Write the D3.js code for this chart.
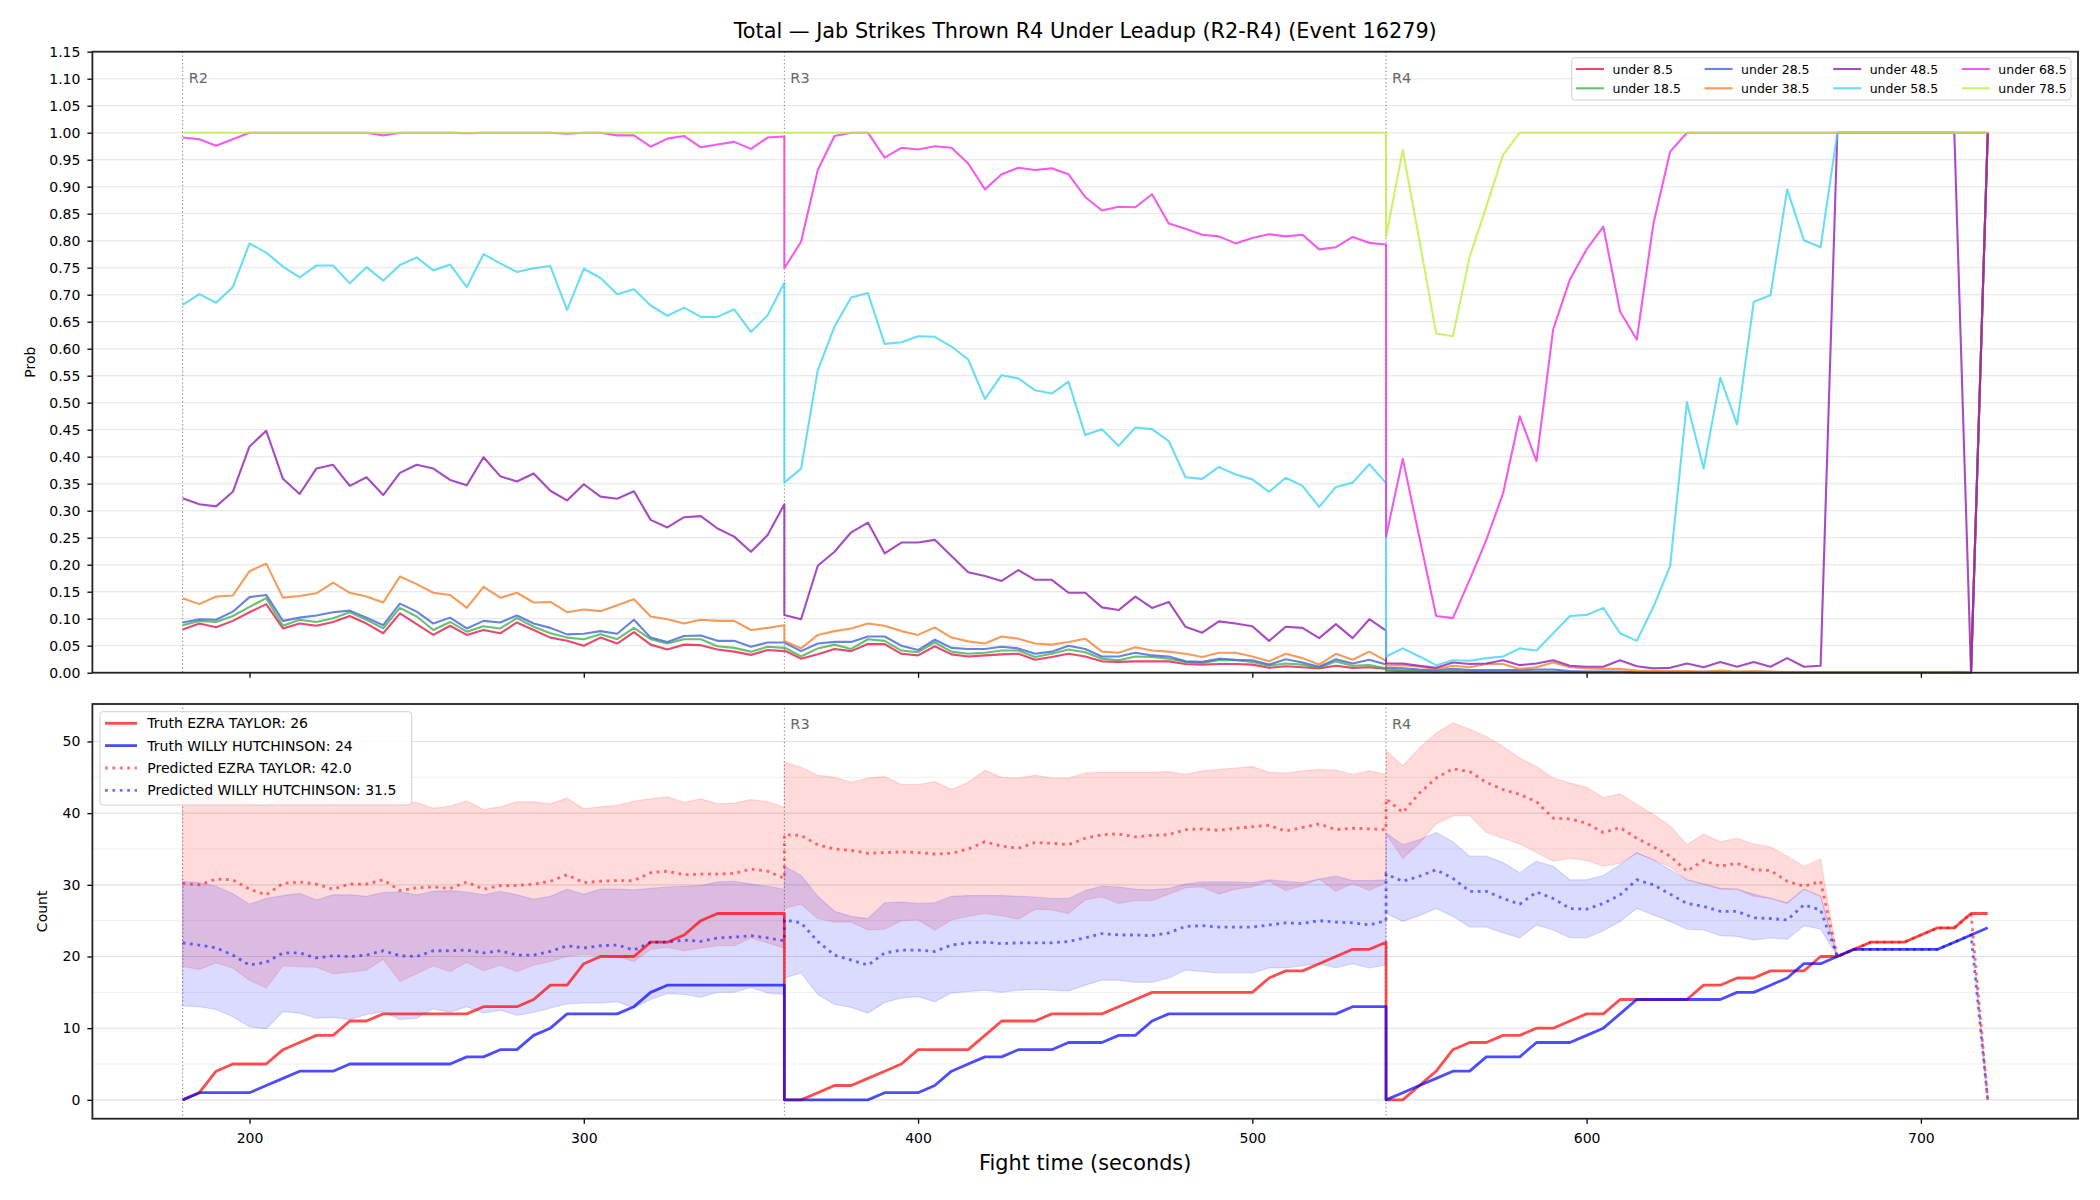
<!DOCTYPE html>
<html>
<head>
<meta charset="utf-8">
<script src="https://cdn.jsdelivr.net/npm/d3@7"></script>
<style>
  body { margin: 0; background: #fff; }
  #chart { width: 2100px; height: 1200px; }
  text { font-family: "DejaVu Sans", sans-serif; }
</style>
</head>
<body>
<div id="chart"></div>
<script>
// rounds shown and sampling (one value every 5 seconds, 37 per round)
const roundStarts = [180, 360, 540];
const roundNames = ["R2", "R3", "R4"];
const sampleStep = 5;

// tick values
const probTicks = [0.00, 0.05, 0.10, 0.15, 0.20, 0.25, 0.30, 0.35, 0.40, 0.45, 0.50, 0.55,
  0.60, 0.65, 0.70, 0.75, 0.80, 0.85, 0.90, 0.95, 1.00, 1.05, 1.10, 1.15];
const countTicks = [0, 10, 20, 30, 40, 50];
const countMinorTicks = [5, 15, 25, 35, 45];
const timeTicks = [200, 300, 400, 500, 600, 700];

// top panel: probability of the total being under each line
const lineNames = ["under 8.5", "under 18.5", "under 28.5", "under 38.5",
  "under 48.5", "under 58.5", "under 68.5", "under 78.5"];
const lineColors = ["#e6194b", "#3cb44b", "#4363d8", "#f58231",
  "#911eb4", "#42d4f4", "#f032e6", "#bfef45"];

const under8 = [
  [0.080, 0.091, 0.084, 0.096, 0.112, 0.127, 0.082, 0.091, 0.087, 0.094, 0.105, 0.091, 0.073, 0.110, 0.090, 0.070, 0.087, 0.070, 0.079, 0.073, 0.093, 0.079, 0.065, 0.059, 0.050, 0.065, 0.054, 0.075, 0.052, 0.043, 0.052, 0.051, 0.043, 0.039, 0.033, 0.042, 0.040],
  [0.041, 0.026, 0.034, 0.044, 0.040, 0.053, 0.053, 0.035, 0.032, 0.049, 0.034, 0.030, 0.032, 0.034, 0.035, 0.024, 0.029, 0.035, 0.030, 0.021, 0.020, 0.021, 0.021, 0.021, 0.016, 0.015, 0.016, 0.016, 0.015, 0.009, 0.012, 0.010, 0.008, 0.013, 0.009, 0.010, 0.007],
  [0.004, 0.003, 0.002, 0.001, 0.002, 0.001, 0.001, 0.001, 0.001, 0.001, 0.001, 0.001, 0.001, 0.001, 0.001, 0, 0, 0, 0, 0, 0, 0, 0, 0, 0, 0, 0, 0, 0, 0, 0, 0, 0, 0, 0, 0, 1]
];
const under18 = [
  [0.088, 0.096, 0.094, 0.105, 0.122, 0.138, 0.087, 0.098, 0.094, 0.101, 0.112, 0.098, 0.082, 0.120, 0.104, 0.079, 0.094, 0.076, 0.086, 0.082, 0.101, 0.085, 0.073, 0.065, 0.062, 0.071, 0.062, 0.083, 0.062, 0.054, 0.062, 0.062, 0.049, 0.046, 0.039, 0.048, 0.046],
  [0.047, 0.030, 0.045, 0.052, 0.044, 0.062, 0.059, 0.041, 0.038, 0.056, 0.039, 0.035, 0.037, 0.041, 0.041, 0.029, 0.035, 0.043, 0.038, 0.026, 0.023, 0.030, 0.029, 0.026, 0.020, 0.018, 0.023, 0.023, 0.020, 0.013, 0.017, 0.015, 0.009, 0.021, 0.013, 0.014, 0.008],
  [0.005, 0.004, 0.003, 0.002, 0.003, 0.002, 0.002, 0.002, 0.002, 0.002, 0.002, 0.001, 0.001, 0.001, 0.001, 0.001, 0.001, 0.001, 0.001, 0.001, 0, 0, 0, 0, 0, 0, 0, 0, 0, 0, 0, 0, 0, 0, 0, 0, 1]
];
const under28 = [
  [0.093, 0.099, 0.098, 0.113, 0.140, 0.144, 0.096, 0.102, 0.106, 0.112, 0.115, 0.102, 0.088, 0.128, 0.113, 0.091, 0.102, 0.082, 0.096, 0.093, 0.106, 0.091, 0.083, 0.071, 0.072, 0.077, 0.072, 0.098, 0.065, 0.057, 0.068, 0.069, 0.059, 0.059, 0.048, 0.056, 0.056],
  [0.056, 0.040, 0.054, 0.057, 0.057, 0.067, 0.067, 0.050, 0.042, 0.061, 0.046, 0.044, 0.044, 0.048, 0.045, 0.035, 0.039, 0.050, 0.044, 0.030, 0.030, 0.037, 0.032, 0.030, 0.021, 0.020, 0.026, 0.024, 0.023, 0.015, 0.025, 0.019, 0.011, 0.025, 0.017, 0.024, 0.015],
  [0.009, 0.008, 0.006, 0.005, 0.007, 0.005, 0.005, 0.005, 0.005, 0.006, 0.006, 0.003, 0.002, 0.002, 0.002, 0.001, 0.001, 0.001, 0.001, 0.001, 0.001, 0.001, 0.001, 0.001, 0.001, 0.001, 0.001, 0.001, 0.001, 0.001, 0.001, 0.001, 0.001, 0.001, 0.001, 0, 1]
];
const under38 = [
  [0.138, 0.127, 0.141, 0.143, 0.188, 0.202, 0.139, 0.142, 0.147, 0.167, 0.148, 0.141, 0.130, 0.178, 0.164, 0.148, 0.144, 0.120, 0.159, 0.139, 0.148, 0.130, 0.131, 0.112, 0.117, 0.114, 0.125, 0.136, 0.104, 0.099, 0.091, 0.098, 0.096, 0.096, 0.079, 0.083, 0.088],
  [0.059, 0.045, 0.070, 0.077, 0.082, 0.091, 0.087, 0.077, 0.070, 0.084, 0.065, 0.058, 0.054, 0.067, 0.063, 0.054, 0.052, 0.057, 0.063, 0.039, 0.037, 0.047, 0.041, 0.039, 0.035, 0.029, 0.037, 0.037, 0.030, 0.021, 0.035, 0.027, 0.015, 0.035, 0.024, 0.039, 0.022],
  [0.013, 0.014, 0.011, 0.007, 0.013, 0.010, 0.016, 0.016, 0.007, 0.010, 0.019, 0.010, 0.008, 0.007, 0.007, 0.004, 0.003, 0.003, 0.003, 0.002, 0.004, 0.002, 0.003, 0.002, 0.001, 0.001, 0.001, 0.001, 0.001, 0.001, 0.001, 0.001, 0.001, 0.001, 0.001, 0, 1]
];
const under48 = [
  [0.323, 0.312, 0.308, 0.335, 0.419, 0.448, 0.359, 0.331, 0.378, 0.385, 0.346, 0.362, 0.329, 0.370, 0.385, 0.378, 0.357, 0.347, 0.399, 0.364, 0.354, 0.369, 0.337, 0.319, 0.349, 0.326, 0.322, 0.336, 0.283, 0.269, 0.288, 0.290, 0.267, 0.252, 0.224, 0.255, 0.312],
  [0.107, 0.099, 0.198, 0.224, 0.260, 0.278, 0.221, 0.241, 0.241, 0.246, 0.216, 0.186, 0.179, 0.170, 0.190, 0.172, 0.172, 0.148, 0.148, 0.121, 0.116, 0.141, 0.120, 0.131, 0.085, 0.074, 0.095, 0.091, 0.086, 0.059, 0.085, 0.083, 0.064, 0.090, 0.064, 0.099, 0.078],
  [0.017, 0.017, 0.013, 0.009, 0.019, 0.016, 0.017, 0.023, 0.014, 0.017, 0.023, 0.013, 0.011, 0.011, 0.023, 0.012, 0.008, 0.009, 0.017, 0.010, 0.020, 0.011, 0.020, 0.011, 0.027, 0.011, 0.013, 1, 1, 1, 1, 1, 1, 1, 1, 0, 1]
];
const under58 = [
  [0.681, 0.701, 0.685, 0.714, 0.795, 0.778, 0.752, 0.732, 0.754, 0.754, 0.721, 0.751, 0.726, 0.755, 0.769, 0.745, 0.756, 0.714, 0.775, 0.758, 0.742, 0.749, 0.753, 0.672, 0.748, 0.731, 0.701, 0.710, 0.680, 0.661, 0.676, 0.659, 0.659, 0.673, 0.631, 0.662, 0.722],
  [0.352, 0.378, 0.560, 0.641, 0.695, 0.703, 0.609, 0.612, 0.623, 0.622, 0.604, 0.580, 0.507, 0.551, 0.545, 0.523, 0.517, 0.539, 0.440, 0.451, 0.420, 0.454, 0.451, 0.429, 0.362, 0.359, 0.381, 0.367, 0.358, 0.335, 0.361, 0.346, 0.307, 0.344, 0.352, 0.386, 0.351],
  [0.030, 0.045, 0.030, 0.014, 0.023, 0.022, 0.027, 0.030, 0.045, 0.041, 0.073, 0.105, 0.107, 0.120, 0.073, 0.059, 0.122, 0.198, 0.501, 0.378, 0.546, 0.460, 0.687, 0.699, 0.895, 0.801, 0.788, 1, 1, 1, 1, 1, 1, 1, 1, 1, 1]
];
const under68 = [
  [0.991, 0.988, 0.976, 0.988, 1, 1, 1, 1, 1, 1, 1, 1, 0.995, 1, 1, 1, 1, 0.999, 1, 1, 1, 1, 1, 0.998, 1, 1, 0.995, 0.995, 0.974, 0.989, 0.994, 0.973, 0.978, 0.983, 0.970, 0.991, 0.993],
  [0.749, 0.798, 0.931, 0.994, 1, 1, 0.954, 0.972, 0.969, 0.975, 0.972, 0.943, 0.895, 0.923, 0.935, 0.931, 0.934, 0.923, 0.881, 0.856, 0.863, 0.862, 0.886, 0.832, 0.822, 0.811, 0.808, 0.795, 0.805, 0.812, 0.808, 0.811, 0.784, 0.788, 0.807, 0.796, 0.793],
  [0.252, 0.396, 0.250, 0.105, 0.101, 0.172, 0.246, 0.332, 0.475, 0.392, 0.636, 0.728, 0.784, 0.826, 0.669, 0.617, 0.832, 0.965, 1, 1, 1, 1, 1, 1, 1, 1, 1, 1, 1, 1, 1, 1, 1, 1, 1, 1, 1]
];
const under78 = [
  [1, 1, 1, 1, 1, 1, 1, 1, 1, 1, 1, 1, 1, 1, 1, 1, 1, 1, 1, 1, 1, 1, 1, 1, 1, 1, 1, 1, 1, 1, 1, 1, 1, 1, 1, 1, 1],
  [1, 1, 1, 1, 1, 1, 1, 1, 1, 1, 1, 1, 1, 1, 1, 1, 1, 1, 1, 1, 1, 1, 1, 1, 1, 1, 1, 1, 1, 1, 1, 1, 1, 1, 1, 1, 1],
  [0.807, 0.968, 0.800, 0.628, 0.623, 0.770, 0.863, 0.959, 1, 1, 1, 1, 1, 1, 1, 1, 1, 1, 1, 1, 1, 1, 1, 1, 1, 1, 1, 1, 1, 1, 1, 1, 1, 1, 1, 1, 1]
];
const probSeries = [under8, under18, under28, under38, under48, under58, under68, under78];

// bottom panel: counts per fighter
const fighters = ["EZRA TAYLOR", "WILLY HUTCHINSON"];

const truthRed = [
  [0, 1, 4, 5, 5, 5, 7, 8, 9, 9, 11, 11, 12, 12, 12, 12, 12, 12, 13, 13, 13, 14, 16, 16, 19, 20, 20, 20, 22, 22, 23, 25, 26, 26, 26, 26, 26],
  [0, 0, 1, 2, 2, 3, 4, 5, 7, 7, 7, 7, 9, 11, 11, 11, 12, 12, 12, 12, 13, 14, 15, 15, 15, 15, 15, 15, 15, 17, 18, 18, 19, 20, 21, 21, 22],
  [0, 0, 2, 4, 7, 8, 8, 9, 9, 10, 10, 11, 12, 12, 14, 14, 14, 14, 14, 16, 16, 17, 17, 18, 18, 18, 20, 20, 21, 22, 22, 22, 23, 24, 24, 26, 26]
];
const truthBlue = [
  [0, 1, 1, 1, 1, 2, 3, 4, 4, 4, 5, 5, 5, 5, 5, 5, 5, 6, 6, 7, 7, 9, 10, 12, 12, 12, 12, 13, 15, 16, 16, 16, 16, 16, 16, 16, 16],
  [0, 0, 0, 0, 0, 0, 1, 1, 1, 2, 4, 5, 6, 6, 7, 7, 7, 8, 8, 8, 9, 9, 11, 12, 12, 12, 12, 12, 12, 12, 12, 12, 12, 12, 13, 13, 13],
  [0, 1, 2, 3, 4, 4, 6, 6, 6, 8, 8, 8, 9, 10, 12, 14, 14, 14, 14, 14, 14, 15, 15, 16, 17, 19, 19, 20, 21, 21, 21, 21, 21, 21, 22, 23, 24]
];
const predRed = [
  [30.2, 30.0, 30.8, 30.7, 29.4, 28.6, 30.2, 30.4, 30.1, 29.4, 30.1, 30.1, 30.7, 29.2, 29.6, 29.7, 29.5, 30.4, 29.4, 29.9, 29.9, 30.1, 30.5, 31.4, 30.3, 30.5, 30.6, 30.6, 31.7, 31.9, 31.4, 31.5, 31.5, 31.6, 32.2, 31.9, 30.9],
  [37.0, 36.9, 35.6, 35.0, 34.8, 34.4, 34.5, 34.6, 34.5, 34.3, 34.4, 35.0, 36.0, 35.4, 35.1, 35.9, 35.8, 35.6, 36.5, 37.0, 37.1, 36.7, 36.9, 37.0, 37.7, 37.8, 37.6, 37.9, 38.1, 38.3, 37.5, 38.0, 38.5, 37.7, 37.9, 37.8, 37.7],
  [42.0, 40.1, 42.8, 44.9, 46.2, 45.8, 44.3, 43.3, 42.6, 41.6, 39.3, 39.2, 38.6, 37.3, 38.0, 36.5, 35.3, 34.0, 31.9, 33.4, 32.6, 33.0, 32.1, 32.0, 30.5, 29.8, 30.5, 20, 21, 22, 22, 22, 23, 24, 24, 26, 0]
];
const predBlue = [
  [21.9, 21.6, 21.2, 20.2, 18.8, 19.2, 20.5, 20.5, 19.8, 20.1, 20.0, 20.2, 20.8, 20.1, 20.0, 20.8, 20.8, 20.9, 20.5, 20.8, 20.2, 20.2, 20.7, 21.5, 21.2, 21.5, 21.6, 20.9, 22.0, 22.0, 22.3, 22.1, 22.6, 22.7, 22.9, 22.6, 22.2],
  [25.1, 24.7, 22.1, 20.2, 19.5, 18.8, 20.5, 20.9, 20.9, 20.7, 21.6, 21.9, 22.0, 21.8, 21.9, 21.9, 21.9, 22.1, 22.6, 23.2, 23.0, 23.0, 22.9, 23.3, 24.2, 24.3, 24.1, 24.1, 24.1, 24.4, 24.7, 24.6, 25.0, 24.8, 24.7, 24.4, 25.0],
  [31.5, 30.5, 31.2, 32.1, 30.9, 29.1, 29.1, 28.1, 27.3, 29.0, 28.1, 26.7, 26.6, 27.4, 28.6, 30.7, 30.0, 28.7, 27.4, 27.0, 26.3, 26.3, 25.4, 25.3, 25.1, 27.2, 26.5, 20, 21, 21, 21, 21, 21, 21, 22, 23, 0]
];
const redLow = [
  [18.6, 18.2, 19.1, 18.4, 16.7, 15.6, 18.7, 18.6, 18.5, 17.6, 17.8, 18.1, 19.6, 16.5, 17.6, 18.7, 17.9, 19.2, 18.0, 18.8, 17.9, 18.8, 19.3, 20.0, 20.3, 20.1, 20.0, 19.3, 21.0, 21.3, 20.8, 21.2, 21.5, 21.5, 22.6, 21.9, 21.2],
  [26.7, 27.3, 25.3, 24.8, 24.8, 23.7, 23.8, 25.0, 25.1, 23.7, 25.1, 25.6, 26.0, 25.7, 25.2, 26.6, 26.5, 26.0, 27.9, 28.3, 27.4, 27.8, 27.8, 28.7, 29.6, 29.7, 28.7, 29.4, 29.7, 30.5, 29.2, 29.9, 30.8, 29.1, 30.2, 29.2, 30.3],
  [37.1, 33.7, 35.8, 38.5, 39.6, 39.7, 37.3, 36.5, 35.7, 34.5, 33.3, 33.7, 33.4, 32.6, 33.0, 34.4, 33.5, 32.5, 30.7, 30.1, 29.4, 29.4, 28.4, 28.1, 27.4, 29.4, 28.4, 20, 21, 22, 22, 22, 23, 24, 24, 26, 0]
];
const redHigh = [
  [42.0, 42.3, 42.5, 42.0, 41.5, 41.0, 42.0, 42.3, 42.0, 41.5, 42.3, 42.2, 42.0, 41.5, 41.5, 40.7, 41.0, 41.7, 40.5, 40.9, 41.6, 41.6, 41.3, 42.1, 40.6, 40.9, 41.1, 41.7, 42.0, 42.3, 41.5, 42.0, 41.3, 41.4, 41.9, 41.6, 40.8],
  [47.1, 46.4, 45.3, 45.0, 44.3, 44.9, 45.1, 44.0, 44.0, 44.4, 43.3, 44.3, 46.0, 45.0, 44.9, 45.3, 44.9, 44.9, 45.6, 45.7, 45.7, 45.7, 45.7, 45.8, 45.4, 45.9, 46.1, 46.3, 46.5, 45.7, 45.6, 45.9, 46.1, 46.0, 45.4, 45.9, 45.4],
  [48.7, 46.6, 49.1, 51.2, 52.6, 51.7, 50.7, 49.3, 47.7, 46.5, 44.9, 44.2, 43.6, 42.2, 42.7, 41.2, 39.8, 38.2, 35.6, 37.1, 36.0, 36.5, 35.7, 35.3, 34.0, 32.6, 33.6, 20, 21, 22, 22, 22, 23, 24, 24, 26, 0]
];
const blueLow = [
  [13.1, 13.0, 12.6, 11.6, 10.2, 9.9, 12.3, 12.1, 11.4, 11.5, 11.2, 11.9, 12.3, 11.2, 11.4, 12.7, 12.2, 13.0, 12.1, 12.5, 11.8, 12.2, 12.8, 13.4, 13.5, 13.5, 13.7, 12.8, 14.0, 14.8, 14.7, 14.3, 15.0, 15.0, 15.7, 14.9, 14.7],
  [17.0, 17.7, 14.7, 13.3, 12.9, 12.1, 13.6, 14.2, 14.4, 13.7, 14.9, 15.1, 15.3, 15.0, 15.3, 15.4, 15.3, 15.2, 16.0, 16.7, 16.7, 16.4, 16.4, 17.0, 18.1, 17.9, 17.7, 17.7, 17.7, 18.4, 18.4, 18.7, 19.0, 18.4, 19.0, 18.4, 18.8],
  [26.0, 24.9, 25.7, 26.7, 25.6, 24.1, 24.1, 23.3, 22.6, 24.4, 23.7, 22.6, 22.6, 23.6, 24.9, 26.7, 25.8, 24.9, 23.8, 23.7, 22.9, 22.8, 22.3, 22.6, 22.4, 24.3, 23.8, 20, 21, 21, 21, 21, 21, 21, 22, 23, 0]
];
const blueHigh = [
  [30.5, 30.3, 29.8, 28.8, 27.3, 28.1, 28.5, 28.8, 27.9, 28.6, 28.6, 28.4, 28.9, 29.0, 28.6, 29.1, 29.2, 29.0, 28.6, 29.1, 28.6, 28.0, 28.4, 29.4, 28.7, 29.4, 29.4, 29.3, 29.5, 29.7, 29.8, 29.9, 30.4, 30.5, 30.1, 29.8, 29.4],
  [32.6, 31.3, 28.4, 26.3, 25.6, 25.3, 27.5, 27.6, 27.4, 27.5, 28.4, 28.5, 28.5, 28.5, 28.4, 28.3, 28.1, 28.1, 29.2, 29.8, 29.7, 29.4, 29.3, 29.5, 30.1, 30.4, 30.4, 30.4, 30.3, 30.7, 30.5, 30.3, 30.8, 31.2, 30.6, 30.6, 30.7],
  [37.2, 35.6, 36.3, 37.3, 36.0, 34.0, 34.0, 33.1, 31.7, 33.3, 32.6, 30.7, 30.7, 31.3, 32.8, 34.5, 33.5, 32.1, 30.7, 30.1, 29.5, 29.4, 28.7, 28.1, 27.5, 29.4, 28.4, 20, 21, 21, 21, 21, 21, 21, 22, 23, 0]
];

// turn a [round][sample] array into {t, v} points
function toPoints(rounds) {
  const pts = [];
  rounds.forEach(function(vals, r) {
    vals.forEach(function(v, i) {
      pts.push({ t: roundStarts[r] + sampleStep * i, v: v });
    });
  });
  return pts;
}

function toBand(low, high) {
  const lo = toPoints(low);
  const hi = toPoints(high);
  return lo.map(function(d, i) {
    return { t: d.t, lo: d.v, hi: hi[i].v };
  });
}

const width = 2100;
const height = 1200;
const topBox = { left: 92.4, right: 2078, top: 51.7, bottom: 672.7 };
const botBox = { left: 92.4, right: 2078, top: 704, bottom: 1118.7 };

const svg = d3.select("#chart")
  .append("svg")
  .attr("width", width)
  .attr("height", height);

svg.append("rect").attr("width", width).attr("height", height).attr("fill", "#fff");

// shared x scale, 5% margin like matplotlib
const tMin = roundStarts[0];
const tMax = roundStarts[2] + sampleStep * 36;
const tPad = (tMax - tMin) * 0.05;

const xScale = d3.scaleLinear()
  .domain([tMin - tPad, tMax + tPad])
  .range([topBox.left, topBox.right]);

const yTop = d3.scaleLinear()
  .domain([0, 1.15])
  .range([topBox.bottom, topBox.top]);

const allCounts = [].concat(truthRed.flat(), truthBlue.flat(), predRed.flat(), predBlue.flat(),
  redHigh.flat(), blueHigh.flat());
const cMax = d3.max(allCounts);
const yBot = d3.scaleLinear()
  .domain([-cMax * 0.05, cMax * 1.05])
  .range([botBox.bottom, botBox.top]);

// ---------- top panel ----------
const topG = svg.append("g");

topG.selectAll(".grid")
  .data(probTicks)
  .enter().append("line")
  .attr("x1", topBox.left).attr("x2", topBox.right)
  .attr("y1", function(d) { return yTop(d); })
  .attr("y2", function(d) { return yTop(d); })
  .attr("stroke", "#e3e3e3")
  .attr("stroke-width", 1.1);

// dotted round start lines; labels only where they are not under the legend
function roundMarkers(g, box, labelRounds) {
  roundStarts.forEach(function(t, i) {
    g.append("line")
      .attr("x1", xScale(t)).attr("x2", xScale(t))
      .attr("y1", box.top).attr("y2", box.bottom)
      .attr("stroke", "#555")
      .attr("stroke-opacity", 0.8)
      .attr("stroke-width", 1)
      .attr("stroke-dasharray", "1.2,2.6");
    if (labelRounds.indexOf(i) < 0) return;
    g.append("text")
      .attr("x", xScale(t) + 6)
      .attr("y", box.top + (box.bottom - box.top) * 0.034 + 10.5)
      .attr("font-size", 14.5)
      .attr("fill", "#666")
      .text(roundNames[i]);
  });
}
roundMarkers(topG, topBox, [0, 1, 2]);

const lineTop = d3.line()
  .x(function(d) { return xScale(d.t); })
  .y(function(d) { return yTop(d.v); });

probSeries.forEach(function(s, i) {
  topG.append("path")
    .datum(toPoints(s))
    .attr("d", lineTop)
    .attr("fill", "none")
    .attr("stroke", lineColors[i])
    .attr("stroke-opacity", 0.8)
    .attr("stroke-width", 2.1)
    .attr("stroke-linejoin", "round");
});

topG.append("g")
  .attr("transform", `translate(${topBox.left},0)`)
  .call(d3.axisLeft(yTop).tickValues(probTicks).tickFormat(d3.format(".2f")).tickSize(5).tickPadding(7))
  .call(function(g) { g.select(".domain").remove(); })
  .attr("font-family", "DejaVu Sans").attr("font-size", 14)
  .selectAll("line").attr("stroke-width", 1.3);

topG.append("g")
  .attr("transform", `translate(0,${topBox.bottom})`)
  .call(d3.axisBottom(xScale).tickValues(timeTicks).tickFormat("").tickSize(5))
  .call(function(g) { g.select(".domain").remove(); })
  .selectAll("line").attr("stroke-width", 1.3);

topG.append("rect")
  .attr("x", topBox.left).attr("y", topBox.top)
  .attr("width", topBox.right - topBox.left)
  .attr("height", topBox.bottom - topBox.top)
  .attr("fill", "none")
  .attr("stroke", "#222")
  .attr("stroke-width", 1.8);

// top legend, 4 columns
const legTop = topG.append("g");
legTop.append("rect")
  .attr("x", 1571.7).attr("y", 57.7)
  .attr("width", 499.3).attr("height", 42.3)
  .attr("rx", 3)
  .attr("fill", "#fff").attr("fill-opacity", 0.8)
  .attr("stroke", "#d0d0d0").attr("stroke-width", 1);

const legColX = [1576, 1704.6, 1833.2, 1961.8];
const legRowY = [69, 88.3];
lineNames.forEach(function(name, i) {
  const cx = legColX[Math.floor(i / 2)];
  const cy = legRowY[i % 2];
  legTop.append("line")
    .attr("x1", cx).attr("x2", cx + 28)
    .attr("y1", cy).attr("y2", cy)
    .attr("stroke", lineColors[i])
    .attr("stroke-opacity", 0.8)
    .attr("stroke-width", 2.1);
  legTop.append("text")
    .attr("x", cx + 36.5)
    .attr("y", cy)
    .attr("dy", "0.36em")
    .attr("font-size", 12.5)
    .text(name);
});

svg.append("text")
  .attr("transform", `translate(35,${(topBox.top + topBox.bottom) / 2}) rotate(-90)`)
  .attr("text-anchor", "middle")
  .attr("font-size", 14)
  .text("Prob");

// ---------- bottom panel ----------
const botG = svg.append("g");

botG.selectAll(".minor")
  .data(countMinorTicks)
  .enter().append("line")
  .attr("x1", botBox.left).attr("x2", botBox.right)
  .attr("y1", function(d) { return yBot(d); })
  .attr("y2", function(d) { return yBot(d); })
  .attr("stroke", "#efefef")
  .attr("stroke-width", 1);

botG.selectAll(".major")
  .data(countTicks)
  .enter().append("line")
  .attr("x1", botBox.left).attr("x2", botBox.right)
  .attr("y1", function(d) { return yBot(d); })
  .attr("y2", function(d) { return yBot(d); })
  .attr("stroke", "#e0e0e0")
  .attr("stroke-width", 1.1);

roundMarkers(botG, botBox, [1, 2]);

const area = d3.area()
  .x(function(d) { return xScale(d.t); })
  .y0(function(d) { return yBot(d.lo); })
  .y1(function(d) { return yBot(d.hi); });

const lineBot = d3.line()
  .x(function(d) { return xScale(d.t); })
  .y(function(d) { return yBot(d.v); });

[[redLow, redHigh, "red"], [blueLow, blueHigh, "blue"]].forEach(function(b) {
  botG.append("path")
    .datum(toBand(b[0], b[1]))
    .attr("d", area)
    .attr("fill", b[2])
    .attr("fill-opacity", 0.14)
    .attr("stroke", b[2])
    .attr("stroke-opacity", 0.12)
    .attr("stroke-width", 1.2);
});

const truthLines = [[truthRed, "red"], [truthBlue, "blue"]];
truthLines.forEach(function(s) {
  botG.append("path")
    .datum(toPoints(s[0]))
    .attr("d", lineBot)
    .attr("fill", "none")
    .attr("stroke", s[1])
    .attr("stroke-opacity", 0.7)
    .attr("stroke-width", 2.8)
    .attr("stroke-linejoin", "round");
});

const predLines = [[predRed, "red"], [predBlue, "blue"]];
predLines.forEach(function(s) {
  botG.append("path")
    .datum(toPoints(s[0]))
    .attr("d", lineBot)
    .attr("fill", "none")
    .attr("stroke", s[1])
    .attr("stroke-opacity", 0.55)
    .attr("stroke-width", 2.8)
    .attr("stroke-dasharray", "2.8,4.6");
});

botG.append("g")
  .attr("transform", `translate(${botBox.left},0)`)
  .call(d3.axisLeft(yBot).tickValues(countTicks).tickSize(5).tickPadding(7))
  .call(function(g) { g.select(".domain").remove(); })
  .attr("font-family", "DejaVu Sans").attr("font-size", 14)
  .selectAll("line").attr("stroke-width", 1.3);

botG.append("g")
  .attr("transform", `translate(0,${botBox.bottom})`)
  .call(d3.axisBottom(xScale).tickValues(timeTicks).tickSize(5).tickPadding(9))
  .call(function(g) { g.select(".domain").remove(); })
  .attr("font-family", "DejaVu Sans").attr("font-size", 14)
  .selectAll("line").attr("stroke-width", 1.3);

botG.append("rect")
  .attr("x", botBox.left).attr("y", botBox.top)
  .attr("width", botBox.right - botBox.left)
  .attr("height", botBox.bottom - botBox.top)
  .attr("fill", "none")
  .attr("stroke", "#222")
  .attr("stroke-width", 1.8);

// bottom legend
const legBot = botG.append("g");
legBot.append("rect")
  .attr("x", 100).attr("y", 711.7)
  .attr("width", 311.7).attr("height", 93.3)
  .attr("rx", 3)
  .attr("fill", "#fff").attr("fill-opacity", 0.8)
  .attr("stroke", "#d0d0d0").attr("stroke-width", 1);

const legItems = [
  { label: `Truth ${fighters[0]}: ${truthRed[2][36]}`, color: "red", dotted: false },
  { label: `Truth ${fighters[1]}: ${truthBlue[2][36]}`, color: "blue", dotted: false },
  { label: `Predicted ${fighters[0]}: ${predRed[2][0].toFixed(1)}`, color: "red", dotted: true },
  { label: `Predicted ${fighters[1]}: ${predBlue[2][0].toFixed(1)}`, color: "blue", dotted: true }
];
const legBotY = [723.3, 745.6, 768, 790.3];
legItems.forEach(function(d, i) {
  legBot.append("line")
    .attr("x1", 105).attr("x2", 137)
    .attr("y1", legBotY[i]).attr("y2", legBotY[i])
    .attr("stroke", d.color)
    .attr("stroke-opacity", d.dotted ? 0.55 : 0.7)
    .attr("stroke-width", 2.8)
    .attr("stroke-dasharray", d.dotted ? "2.8,4.6" : null);
  legBot.append("text")
    .attr("x", 147.3)
    .attr("y", legBotY[i])
    .attr("dy", "0.36em")
    .attr("font-size", 14)
    .text(d.label);
});

svg.append("text")
  .attr("transform", `translate(47,${(botBox.top + botBox.bottom) / 2}) rotate(-90)`)
  .attr("text-anchor", "middle")
  .attr("font-size", 14)
  .text("Count");

svg.append("text")
  .attr("x", (botBox.left + botBox.right) / 2)
  .attr("y", 1170)
  .attr("text-anchor", "middle")
  .attr("font-size", 20.8)
  .text("Fight time (seconds)");

svg.append("text")
  .attr("x", (topBox.left + topBox.right) / 2)
  .attr("y", 38)
  .attr("text-anchor", "middle")
  .attr("font-size", 20.8)
  .text("Total — Jab Strikes Thrown R4 Under Leadup (R2-R4) (Event 16279)");
</script>
</body>
</html>
